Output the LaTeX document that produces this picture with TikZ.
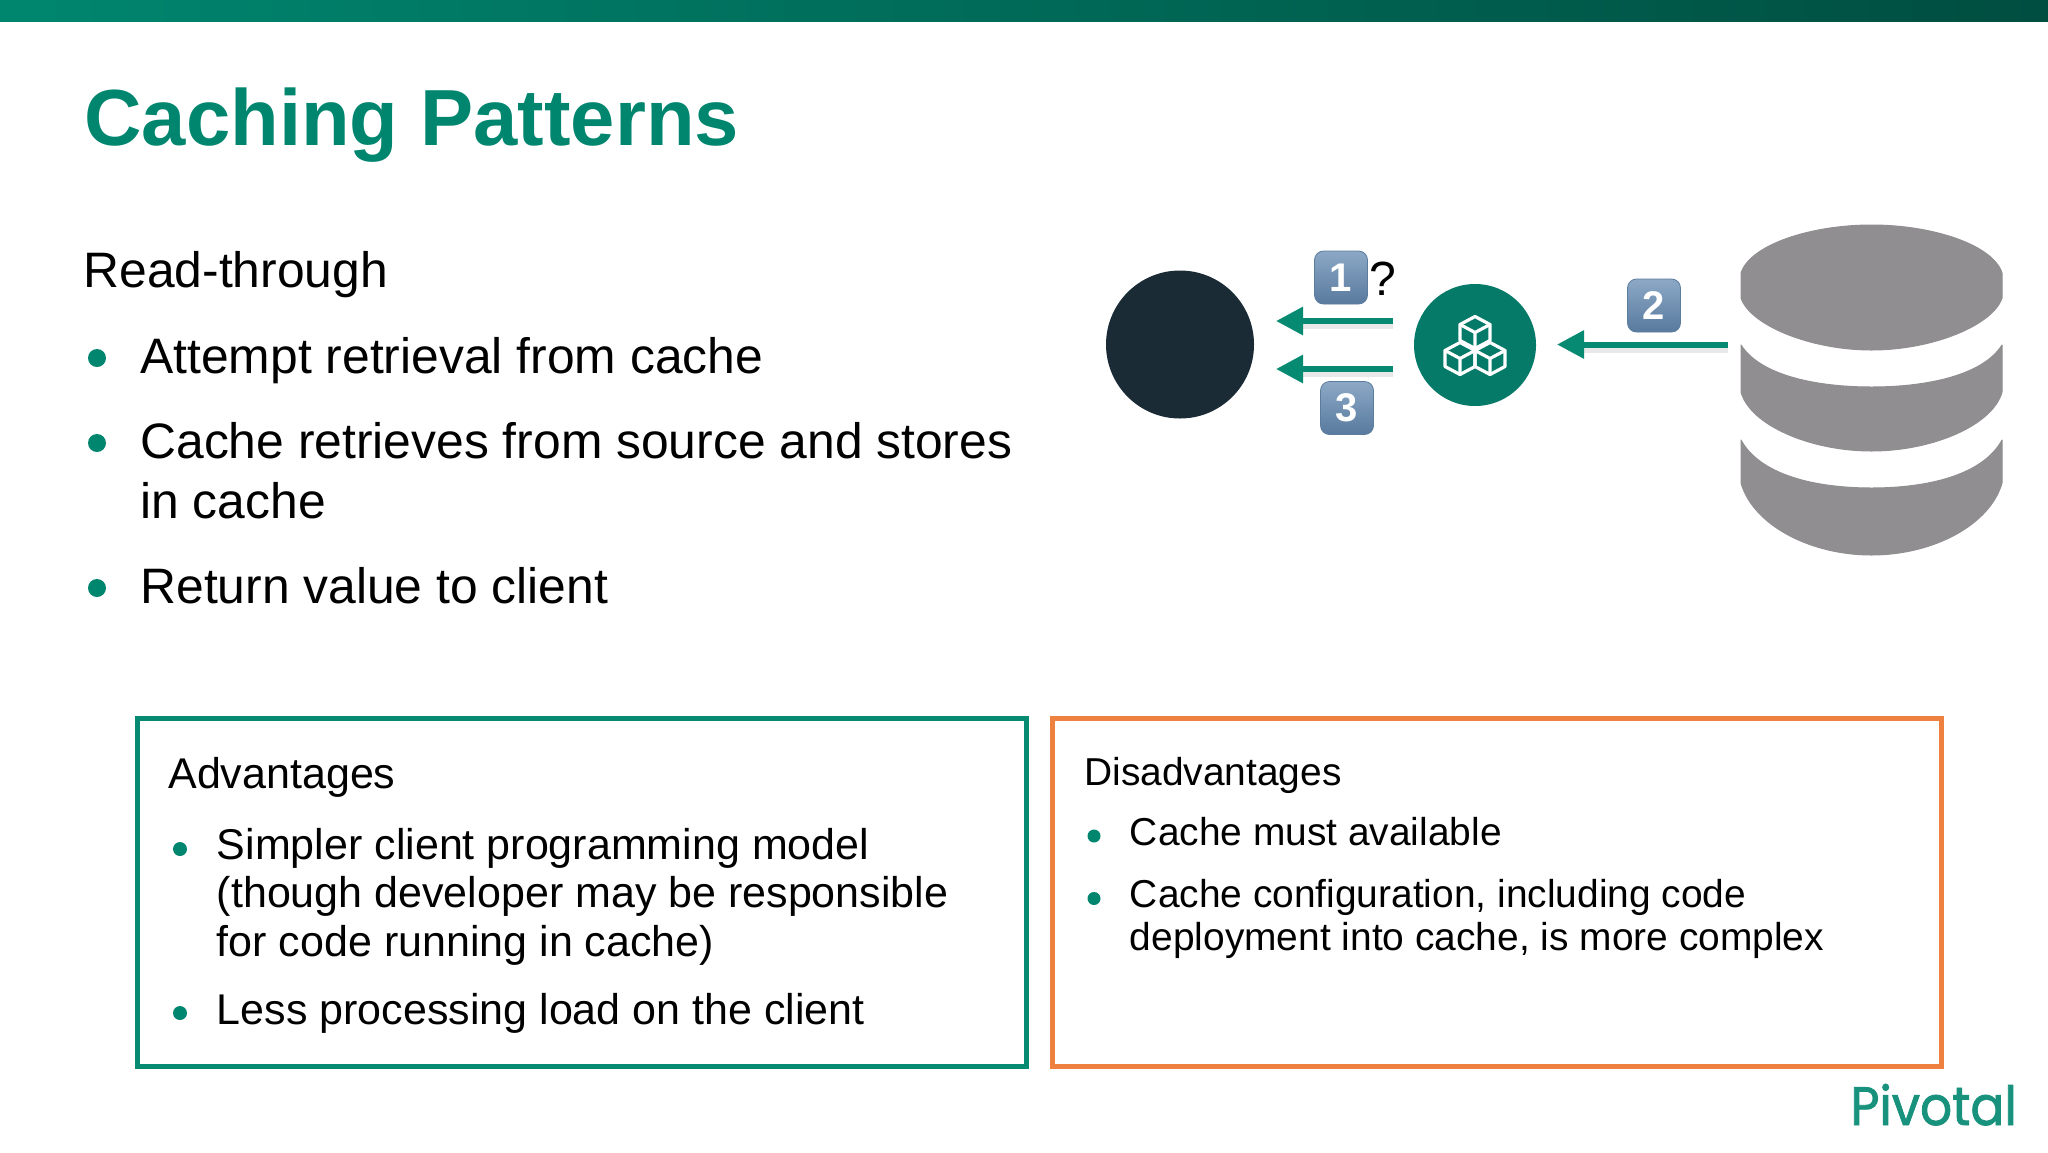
\documentclass[tikz,border=0pt]{standalone}
\usepackage{graphicx}
\usepackage{fontspec}
\setmainfont{Liberation Sans}
\newfontfamily\logofont[FakeBold=1.6]{Poppins}
\usetikzlibrary{arrows.meta,shadings}
\definecolor{pteal}{HTML}{00866F}
\definecolor{parrow}{HTML}{068A72}
\definecolor{picon}{HTML}{067A68}
\definecolor{porange}{HTML}{EE8040}
\definecolor{pdark}{HTML}{1A2B36}
\definecolor{pgray}{HTML}{908E91}
\definecolor{bdgtop}{HTML}{8CA8C6}
\definecolor{bdgbot}{HTML}{587A9E}
\definecolor{bdgline}{HTML}{5C7C9E}
\tikzset{
 x=0.5pt,y=-0.5pt,
 title/.style={anchor=base west,inner sep=0,font=\fontsize{39.8}{46}\selectfont\bfseries,text=pteal},
 body/.style={anchor=base west,inner sep=0,font=\fontsize{24.9}{30}\selectfont,text=black},
 adv/.style={anchor=base west,inner sep=0,font=\fontsize{21.5}{26}\selectfont,text=black},
 dis/.style={anchor=base west,inner sep=0,font=\fontsize{19.45}{24}\selectfont,text=black},
 bul/.style={circle,fill=pteal,draw=none,inner sep=0},
 panel/.style={draw,line width=2.5pt,fill=white,minimum width=444.5pt,minimum height=174pt,inner sep=0,anchor=north west},
 flow/.style={draw=parrow,line width=3pt,-{Triangle[length=13.5pt,width=13.5pt]}},
 flowshadow/.style={draw=black!35,opacity=.25,line width=3pt,shorten >=12pt},
 badge/.style={rounded corners=4.5pt,minimum width=26.5pt,minimum height=26.5pt,inner sep=0,draw=bdgline,top color=bdgtop,bottom color=bdgbot,text=white,font=\fontsize{20}{20}\selectfont\bfseries},
 dbpart/.style={fill=pgray,draw=pgray,line width=.5pt,line join=round},
 cubeline/.style={draw=white,line width=1.6pt,line join=round,line cap=round},
}
\newcommand{\isocube}[2]{%
 \draw[cubeline] (#1,#2-16)--(#1+15,#2-8)--(#1+15,#2+8)--(#1,#2+16)--(#1-15,#2+8)--(#1-15,#2-8)--cycle;
 \draw[cubeline] (#1-15,#2-8)--(#1,#2)--(#1+15,#2-8) (#1,#2)--(#1,#2+16);
}
\begin{document}
\begin{tikzpicture}
\useasboundingbox (0,0) rectangle (2048,1152);
\fill[white] (0,0) rectangle (2048,1152);
\shade[left color=pteal,middle color=black!10!pteal!80!black,right color=black!42!pteal] (0,0) rectangle (2048,21);
\node[title] (ttl) at (84,145) {Caching Patterns};
\node[body] (rt) at (83,287) {Read-through};
\node[bul,minimum size=9pt] (b1) at (97,358) {};
\node[body] (l1) at (140,373) {Attempt retrieval from cache};
\node[bul,minimum size=9pt] (b2) at (97,443) {};
\node[body] (l2) at (140,458) {Cache retrieves from source and stores};
\node[body] (l2b) at (140,518) {in cache};
\node[bul,minimum size=9pt] (b3) at (97,588) {};
\node[body] (l3) at (140,603) {Return value to client};
% diagram
\node[circle,fill=pdark,minimum size=74pt,inner sep=0] (client) at (1180,344.5) {};
\node[circle,fill=picon,minimum size=61pt,inner sep=0] (cache) at (1475,345) {};
\begin{scope}[shift={(1475,345)}]
 \isocube{0}{-12.5}
 \isocube{-15}{13.5}
 \isocube{15}{13.5}
\end{scope}
\coordinate (c1s) at (1393,321); \coordinate (c1e) at (1276,321);
\coordinate (c3s) at (1393,369); \coordinate (c3e) at (1276,369);
\coordinate (dbs) at (1728,344.5); \coordinate (dbe) at (1557,344.5);
\draw[flowshadow] ([yshift=-2.5pt]c1s) -- ([yshift=-2.5pt]c1e);
\draw[flowshadow] ([yshift=-2.5pt]c3s) -- ([yshift=-2.5pt]c3e);
\draw[flowshadow] ([yshift=-2.5pt]dbs) -- ([yshift=-2.5pt]dbe);
\draw[flow] (c1s) -- (c1e);
\draw[flow] (c3s) -- (c3e);
\draw[flow] (dbs) -- (dbe);
\node[badge] (n1) at (1341,277.5) {1};
\node[anchor=base,inner sep=0,font=\fontsize{24}{24}\selectfont] (q) at (1383,295) {?};
\node[badge] (n3) at (1347,408) {3};
\node[badge] (n2) at (1654,305.5) {2};
% database
\path[dbpart] (1741,273) .. controls (1750,245) and (1810,225) .. (1871.5,225) .. controls (1933,225) and (1993,245) .. (2002,273) -- (2002,298) .. controls (1993,325) and (1933,350) .. (1871.5,350) .. controls (1810,350) and (1750,325) .. (1741,298) -- cycle;
\path[dbpart] (1741,345) .. controls (1760,375) and (1815,387) .. (1871.5,387) .. controls (1928,387) and (1983,375) .. (2002,345) -- (2002,392) .. controls (1993,425) and (1933,451) .. (1871.5,451) .. controls (1810,451) and (1750,425) .. (1741,392) -- cycle;
\path[dbpart] (1741,440) .. controls (1760,475) and (1815,488) .. (1871.5,488) .. controls (1928,488) and (1983,475) .. (2002,440) -- (2002,483) .. controls (1990,525) and (1933,555) .. (1871.5,555) .. controls (1810,555) and (1753,525) .. (1741,483) -- cycle;
% panels
\node[panel,draw=parrow] (adv) at (134.5,716) {};
\node[panel,draw=porange] (dis) at (1050,716) {};
\node[adv] (a0) at (168,788) {Advantages};
\node[bul,minimum size=7pt] (ab1) at (180,849) {};
\node[adv] (a1) at (216.5,859) {Simpler client programming model};
\node[adv] (a2) at (216.5,907.5) {(though developer may be responsible};
\node[adv] (a3) at (216.5,956) {for code running in cache)};
\node[bul,minimum size=7pt] (ab2) at (180,1013) {};
\node[adv] (a4) at (216.5,1024) {Less processing load on the client};
\node[dis] (d0) at (1084,785) {Disadvantages};
\node[bul,minimum size=6.5pt] (db1) at (1094,836) {};
\node[dis] (d1) at (1129.5,845) {Cache must available};
\node[bul,minimum size=6.5pt] (db2) at (1094,898.5) {};
\node[dis] (d2) at (1129.5,907) {Cache configuration, including code};
\node[dis] (d3) at (1129.5,950) {deployment into cache, is more complex};
% logo
\node[anchor=base west,inner sep=0,text=pteal!90!white,font=\logofont\fontsize{27}{27}\selectfont] (logo) at (1850,1125) {\scalebox{0.93}[1]{Pivotal}};
\end{tikzpicture}
\end{document}
